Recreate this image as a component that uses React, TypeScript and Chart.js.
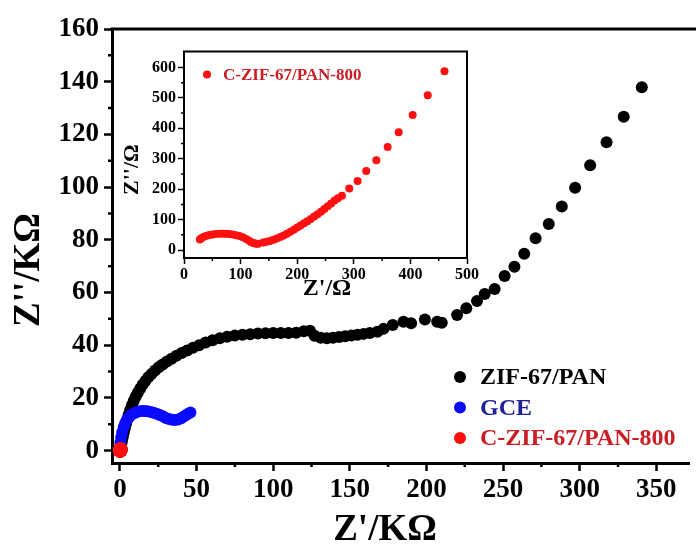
import React, { useEffect, useRef } from "react";
import { Chart, registerables } from "chart.js";

Chart.register(...registerables);

const FONT = '"Liberation Serif", "Times New Roman", Times, serif';

// ---------- data (main plot, kΩ) ----------
const zifX = [0.3, 0.8, 1.3, 1.9, 2.5, 3.2, 4, 4.8, 5.7, 6.7, 7.8, 9, 10.3, 11.7, 13.2, 14.8, 16.6, 18.5, 20.6, 22.9, 25.3, 27.9, 30.7, 33.7, 36.9, 40.3, 43.9, 47.7, 51.7, 56, 60.5, 65.2, 70, 75, 80, 85, 90, 95, 100, 105, 110, 115, 120, 124, 127, 131, 135, 139, 143, 147, 151, 155, 159, 163, 168, 172, 178, 185, 190, 199, 207, 210, 220, 226, 233, 238, 244.5, 251, 257.4, 263.8, 271.2, 279.8, 288.3, 297, 306.8, 317.5, 328.7, 340.5];
const zifY = [0.8, 2.2, 3.6, 5.2, 6.8, 8.5, 10.2, 11.9, 13.6, 15.4, 17.1, 18.8, 20.4, 22, 23.5, 25, 26.4, 27.8, 29.1, 30.4, 31.6, 32.7, 33.8, 34.9, 36, 37, 38, 39, 40, 41, 41.9, 42.6, 43.2, 43.7, 44, 44.2, 44.4, 44.5, 44.6, 44.6, 44.6, 44.7, 45.3, 45.5, 43.6, 42.8, 42.6, 42.8, 43.1, 43.4, 43.7, 44, 44.3, 44.6, 45.1, 46.2, 47.7, 48.9, 48.3, 49.8, 48.9, 48.5, 51.5, 54, 56.8, 59.4, 61.3, 66.3, 69.8, 74.7, 80.6, 86, 92.6, 99.8, 108.3, 117, 126.7, 137.9];

const gceX = [0, 0.3, 0.8, 1.5, 2.5, 3.5, 5, 6.5, 8, 10, 12, 14, 16, 18, 20, 22, 24, 26, 28, 30, 32, 34, 36, 38, 40, 42, 44, 46];
const gceY = [1, 3, 5, 7, 9, 10.5, 12, 13, 13.8, 14.4, 14.8, 15, 15, 14.9, 14.7, 14.4, 14, 13.5, 13, 12.4, 12, 11.7, 11.6, 11.8, 12.3, 13, 13.8, 14.5];

// ---------- data (inset, Ω) ----------
const czifOhmX = [28, 31, 35, 40, 45, 50, 56, 62, 68, 74, 80, 86, 92, 98, 104, 110, 115, 119, 123, 127, 131, 140, 146, 152, 158, 164, 170, 176, 182, 188, 194, 200, 206, 212, 218, 224, 230, 236, 242, 248, 254, 260, 266, 272, 279, 292, 306.7, 322, 339.8, 359.8, 379.3, 404, 430.6, 460.2];
const czifOhmY = [35, 40, 44, 47, 49.5, 51, 52.5, 53.5, 54, 53.8, 53, 51.5, 49, 46, 42, 36.5, 31, 26, 23, 21, 20.5, 25, 27, 30, 34, 38, 43, 48, 54, 60, 67, 74, 81, 88, 95, 102, 110, 118, 126, 135, 144, 153, 163, 170, 178.6, 202, 227, 260, 295.5, 338.6, 387.4, 443.8, 508.8, 587.7];

// ---------- tick values ----------
const mainXTicks = [0, 50, 100, 150, 200, 250, 300, 350];
const mainXMinor = [25, 75, 125, 175, 225, 275, 325];
const mainYTicks = [0, 20, 40, 60, 80, 100, 120, 140, 160];
const mainYMinor = [10, 30, 50, 70, 90, 110, 130, 150];
const insetXTicks = [0, 100, 200, 300, 400, 500];
const insetXMinor = [50, 150, 250, 350, 450];
const insetYTicks = [0, 100, 200, 300, 400, 500, 600];
const insetYMinor = [50, 150, 250, 350, 450, 550];

const seriesLabels = ["ZIF-67/PAN", "GCE", "C-ZIF-67/PAN-800"];
const markerColors = ["#000000", "#0a0aff", "#ff1010"];
const textColors = ["#000000", "#1f1f9a", "#c81e24"];

const toPts = (xs: number[], ys: number[], k = 1) => xs.map((x, i) => ({ x: x * k, y: ys[i] * k }));

function decor(cfg: any) {
  return {
    id: "decor",
    afterDraw(chart: any) {
      const ctx = chart.ctx;
      const a = chart.chartArea;
      const xs = chart.scales.x;
      const ys = chart.scales.y;
      ctx.save();
      ctx.strokeStyle = "#000";
      // top frame line (and right if requested)
      ctx.lineWidth = cfg.frameWidth;
      ctx.beginPath();
      ctx.moveTo(a.left - cfg.frameWidth / 2, a.top);
      ctx.lineTo(a.right + (cfg.drawRight ? cfg.frameWidth / 2 : 10), a.top);
      if (cfg.drawRight) {
        ctx.moveTo(a.right, a.top);
        ctx.lineTo(a.right, a.bottom + cfg.frameWidth / 2);
      }
      ctx.stroke();
      // minor ticks
      ctx.lineWidth = cfg.tickWidth;
      ctx.beginPath();
      cfg.minorX.forEach((v: number) => {
        const p = xs.getPixelForValue(v);
        if (p <= a.left || p >= a.right) return;
        ctx.moveTo(p, a.bottom);
        ctx.lineTo(p, a.bottom + cfg.minorLen);
      });
      cfg.minorY.forEach((v: number) => {
        const p = ys.getPixelForValue(v);
        if (p <= a.top || p >= a.bottom) return;
        ctx.moveTo(a.left, p);
        ctx.lineTo(a.left - cfg.minorLen, p);
      });
      ctx.stroke();
      // axis titles
      ctx.fillStyle = "#000";
      ctx.textAlign = "center";
      ctx.textBaseline = "middle";
      ctx.font = `bold ${cfg.xTitleSize}px ${FONT}`;
      ctx.fillText(cfg.xTitle, a.left + cfg.xTitleDX, a.bottom + cfg.xTitleDY);
      ctx.save();
      ctx.translate(a.left + cfg.yTitleDX, a.top + cfg.yTitleDY);
      ctx.rotate(-Math.PI / 2);
      ctx.font = `bold ${cfg.yTitleSize}px ${FONT}`;
      ctx.fillText(cfg.yTitle, 0, 0);
      ctx.restore();
      // legend
      ctx.textAlign = "left";
      ctx.font = `bold ${cfg.legendSize}px ${FONT}`;
      chart.data.datasets.forEach((ds: any, i: number) => {
        const y = a.top + cfg.legendDY + i * cfg.legendGap;
        ctx.fillStyle = ds.backgroundColor;
        ctx.beginPath();
        ctx.arc(a.left + cfg.legendDX, y, cfg.legendR, 0, Math.PI * 2);
        ctx.fill();
        ctx.fillStyle = ds.textColor;
        ctx.fillText(ds.label, a.left + cfg.legendTextDX, y + 1);
      });
      ctx.restore();
    },
  };
}

export default function App() {
  const mainRef = useRef<HTMLCanvasElement>(null);
  const insetRef = useRef<HTMLCanvasElement>(null);

  useEffect(() => {
    const tickFontMain = { family: FONT, size: 27, weight: "bold" as const };
    const tickFontInset = { family: FONT, size: 16, weight: "bold" as const };

    const main = new Chart(mainRef.current!, {
      type: "scatter",
      data: {
        datasets: [
          { label: seriesLabels[0], data: toPts(zifX, zifY), backgroundColor: markerColors[0], pointRadius: 6, pointBorderWidth: 0, order: 3, textColor: textColors[0] } as any,
          { label: seriesLabels[1], data: toPts(gceX, gceY), backgroundColor: markerColors[1], pointRadius: 6, pointBorderWidth: 0, order: 2, textColor: textColors[1] } as any,
          // inset values converted from Ω to kΩ
          { label: seriesLabels[2], data: toPts(czifOhmX, czifOhmY, 0.001), backgroundColor: markerColors[2], pointRadius: 7, pointBorderWidth: 0, order: 1, textColor: textColors[2] } as any,
        ],
      },
      options: {
        responsive: false,
        animation: false,
        devicePixelRatio: 1,
        layout: { padding: { top: 29, right: 0, left: 0, bottom: 0 } },
        plugins: { legend: { display: false }, tooltip: { enabled: false } },
        scales: {
          x: {
            type: "linear",
            min: -5.16,
            max: 371.3,
            afterBuildTicks: (s: any) => { s.ticks = mainXTicks.map((value) => ({ value })); },
            afterFit: (s: any) => { s.height = 93; },
            ticks: { font: tickFontMain, color: "#000", padding: 3, autoSkip: false, maxRotation: 0 },
            grid: { drawOnChartArea: false, drawTicks: true, tickLength: 8, tickWidth: 2.5, tickColor: "#000" },
            border: { display: true, width: 3, color: "#000" },
          },
          y: {
            type: "linear",
            min: -4.7,
            max: 160,
            afterBuildTicks: (s: any) => { s.ticks = mainYTicks.map((value) => ({ value })); },
            afterFit: (s: any) => { s.width = 112; },
            ticks: { font: tickFontMain, color: "#000", padding: 5, autoSkip: false },
            grid: { drawOnChartArea: false, drawTicks: true, tickLength: 8, tickWidth: 2.5, tickColor: "#000" },
            border: { display: true, width: 3, color: "#000" },
          },
        },
      },
      plugins: [
        decor({
          frameWidth: 3, tickWidth: 2.5, minorLen: 4, drawRight: false,
          minorX: mainXMinor, minorY: mainYMinor,
          xTitle: "Z'/KΩ", xTitleSize: 37, xTitleDX: 273, xTitleDY: 67,
          yTitle: "Z''/KΩ", yTitleSize: 37, yTitleDX: -83, yTitleDY: 241,
          legendSize: 24, legendDX: 348, legendTextDX: 368, legendDY: 348, legendGap: 30.5, legendR: 6,
        }),
      ],
    } as any);

    const inset = new Chart(insetRef.current!, {
      type: "scatter",
      data: {
        datasets: [
          { label: seriesLabels[2], data: toPts(czifOhmX, czifOhmY), backgroundColor: markerColors[2], pointRadius: 4, pointBorderWidth: 0, textColor: textColors[2] } as any,
        ],
      },
      options: {
        responsive: false,
        animation: false,
        devicePixelRatio: 1,
        layout: { padding: { top: 9, right: 23, left: 0, bottom: 0 } },
        plugins: { legend: { display: false }, tooltip: { enabled: false } },
        scales: {
          x: {
            type: "linear",
            min: 0,
            max: 500,
            afterBuildTicks: (s: any) => { s.ticks = insetXTicks.map((value) => ({ value })); },
            afterFit: (s: any) => { s.height = 47; },
            ticks: { font: tickFontInset, color: "#000", padding: 1, autoSkip: false, maxRotation: 0 },
            grid: { drawOnChartArea: false, drawTicks: true, tickLength: 6, tickWidth: 1.5, tickColor: "#000" },
            border: { display: true, width: 2, color: "#000" },
          },
          y: {
            type: "linear",
            min: -26,
            max: 652,
            afterBuildTicks: (s: any) => { s.ticks = insetYTicks.map((value) => ({ value })); },
            afterFit: (s: any) => { s.width = 64; },
            ticks: { font: tickFontInset, color: "#000", padding: 2, autoSkip: false },
            grid: { drawOnChartArea: false, drawTicks: true, tickLength: 6, tickWidth: 1.5, tickColor: "#000" },
            border: { display: true, width: 2, color: "#000" },
          },
        },
      },
      plugins: [
        decor({
          frameWidth: 2, tickWidth: 1.5, minorLen: 3, drawRight: true,
          minorX: insetXMinor, minorY: insetYMinor,
          xTitle: "Z'/Ω", xTitleSize: 24, xTitleDX: 143, xTitleDY: 31,
          yTitle: "Z''/Ω", yTitleSize: 22, yTitleDX: -52, yTitleDY: 118,
          legendSize: 17, legendDX: 23, legendTextDX: 39, legendDY: 23, legendGap: 20, legendR: 4,
        }),
      ],
    } as any);

    return () => {
      main.destroy();
      inset.destroy();
    };
  }, []);

  return (
    <div style={{ position: "absolute", left: 0, top: 0, width: 696, height: 556, background: "#fff", overflow: "hidden" }}>
      <canvas ref={mainRef} width={696} height={556} style={{ position: "absolute", left: 0, top: 0 }} />
      <canvas ref={insetRef} width={370} height={265} style={{ position: "absolute", left: 120, top: 40 }} />
    </div>
  );
}
